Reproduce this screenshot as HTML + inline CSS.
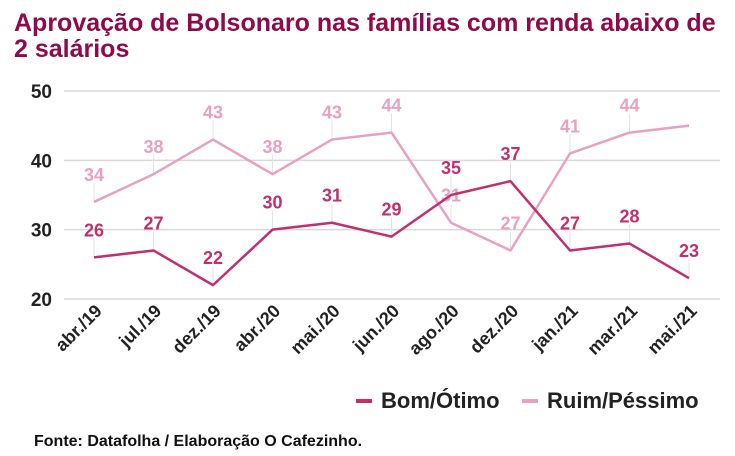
<!DOCTYPE html>
<html><head><meta charset="utf-8"><style>
body{margin:0;background:#fff;font-family:"Liberation Sans",sans-serif;}
#t{position:absolute;left:14px;top:10px;font-size:25px;font-weight:bold;color:#8e0a4b;line-height:26px;width:712px}
</style></head><body>
<div id="t">Aprovação de Bolsonaro nas famílias com renda abaixo de 2 salários</div>
<svg id="c" width="735" height="456" style="position:absolute;left:0;top:0" font-family="Liberation Sans, sans-serif" font-weight="bold"></svg>
<script>
const categories=["abr./19","jul./19","dez./19","abr./20","mai./20","jun./20","ago./20","dez./20","jan./21","mar./21","mai./21"];
const bom=[26,27,22,30,31,29,35,37,27,28,23];
const ruim=[34,38,43,38,43,44,31,27,41,44,45];
const ruimLabels=["34","38","43","38","43","44","31","27","41","44",""];
const bomLabels=["26","27","22","30","31","29","35","37","27","28","23"];
const yTicks=[20,30,40,50];
const svg=document.getElementById('c');const NS='http://www.w3.org/2000/svg';
const x=i=>94+i*59.5, y=v=>299-(v-20)*(208/30);
function el(t,a,p){const e=document.createElementNS(NS,t);for(const k in a)e.setAttribute(k,a[k]);(p||svg).appendChild(e);return e;}
yTicks.forEach(v=>{const l=el('line',{x1:64,x2:720,y1:y(v),y2:y(v),stroke:'#d9d9d9','stroke-width':1.5});


const t=el('text',{x:52,y:y(v)+7,'text-anchor':'end','font-size':19,fill:'#222'});t.textContent=v;

});
categories.forEach((c,i)=>{const t=el('text',{transform:`translate(${x(i)+9},${312}) rotate(-45)`,'text-anchor':'end','font-size':18,fill:'#222'});t.textContent=c;

});
function series(vals,labs,col,name){
vals.forEach((v,i)=>{if(!labs[i])return;const ll=el('line',{x1:x(i),x2:x(i),y1:y(v)-19,y2:y(v),stroke:'#e3e3e3','stroke-width':1});


const t=el('text',{x:x(i),y:y(v)-21,'text-anchor':'middle','font-size':18,fill:col});t.textContent=labs[i];

});
const p=el('polyline',{points:vals.map((v,i)=>x(i)+','+y(v)).join(' '),fill:'none',stroke:col,'stroke-width':2.5,'stroke-linejoin':'round'});

}
series(ruim,ruimLabels,'#e8a1c2','ruim-pessimo');
series(bom,bomLabels,'#c0306f','bom-otimo');
const lg=[["Bom/Ótimo","#c0306f",356],["Ruim/Péssimo","#e8a1c2",522]];
lg.forEach(([n,c,lx])=>{const r=el('rect',{x:lx,y:399,width:16,height:4,fill:c});


const t=el('text',{x:lx+25,y:408,'font-size':22,fill:'#222'});t.textContent=n;

});
const f=el('text',{x:34,y:446,'font-size':16,fill:'#111'});f.textContent='Fonte: Datafolha / Elaboração O Cafezinho.';


</script>
</body></html>
